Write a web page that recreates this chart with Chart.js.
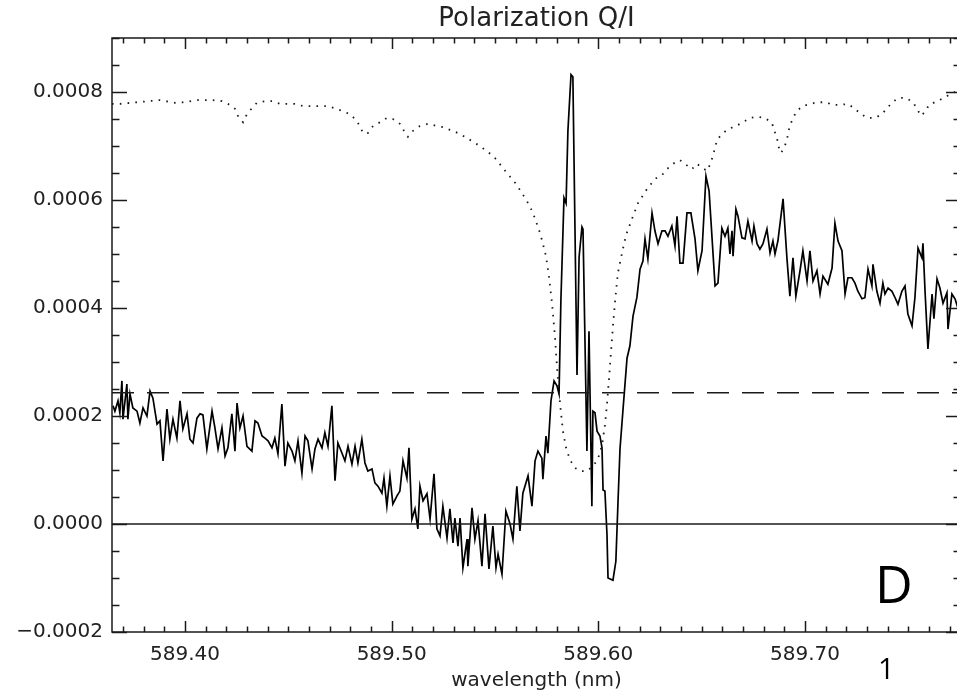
<!DOCTYPE html>
<html lang="en">
<head>
    <meta charset="UTF-8">
    <title>Polarization Q/I</title>
    <script src="https://cdn.jsdelivr.net/npm/chart.js"></script>
    <style>
        html, body { margin: 0; padding: 0; background: #fff; overflow: hidden; }
        #wrap { width: 962px; height: 695px; }
    </style>
</head>
<body>
<div id="wrap"><canvas id="qiChart"></canvas></div>

<script>
    // Axis ranges
    const xMin = 589.3647, xMax = 589.7755;   // wavelength (nm)
    const yMin = -0.0002, yMax = 0.0009;      // Q/I
    const xTickValues = [589.40, 589.50, 589.60, 589.70];
    const yTickValues = [-0.0002, 0.0000, 0.0002, 0.0004, 0.0006, 0.0008];
    const xMinorStep = 0.01;
    const yMinorStep = 0.00005;

    // Reference levels
    const zeroLevel = 0;
    const dashedLevel = 0.000243;

    // Measured Q/I
    const qWavelength = [
        589.3652, 589.3661, 589.3676, 589.3685, 589.3695, 589.3700, 589.3719, 589.3724, 589.3734, 589.3748,
        589.3768, 589.3782, 589.3797, 589.3816, 589.3831, 589.3845, 589.3865, 589.3879, 589.3894, 589.3913,
        589.3927, 589.3942, 589.3961, 589.3976, 589.3990, 589.4010, 589.4024, 589.4039, 589.4058, 589.4073,
        589.4087, 589.4106, 589.4131, 589.4145, 589.4160, 589.4179, 589.4194, 589.4208, 589.4227, 589.4242,
        589.4252, 589.4266, 589.4281, 589.4300, 589.4324, 589.4339, 589.4353, 589.4373, 589.4387, 589.4402,
        589.4421, 589.4435, 589.4450, 589.4469, 589.4484, 589.4498, 589.4518, 589.4532, 589.4547, 589.4566,
        589.4581, 589.4595, 589.4615, 589.4629, 589.4644, 589.4663, 589.4677, 589.4692, 589.4711, 589.4726,
        589.4740, 589.4760, 589.4774, 589.4789, 589.4808, 589.4823, 589.4837, 589.4856, 589.4871, 589.4885,
        589.4905, 589.4919, 589.4934, 589.4953, 589.4963, 589.4977, 589.4992, 589.5006, 589.5026, 589.5040,
        589.5055, 589.5074, 589.5084, 589.5098, 589.5113, 589.5127, 589.5137, 589.5152, 589.5171, 589.5186,
        589.5205, 589.5219, 589.5234, 589.5248, 589.5268, 589.5282, 589.5297, 589.5306, 589.5321, 589.5331,
        589.5345, 589.5365, 589.5369, 589.5389, 589.5403, 589.5418, 589.5437, 589.5452, 589.5471, 589.5490,
        589.5505, 589.5515, 589.5534, 589.5553, 589.5573, 589.5587, 589.5606, 589.5621, 589.5635, 589.5660,
        589.5679, 589.5694, 589.5708, 589.5727, 589.5732, 589.5747, 589.5756, 589.5771, 589.5786, 589.5800,
        589.5810, 589.5819, 589.5834, 589.5844, 589.5853, 589.5868, 589.5877, 589.5897, 589.5907, 589.5921,
        589.5926, 589.5945, 589.5955, 589.5969, 589.5974, 589.5984, 589.5994, 589.6008, 589.6018, 589.6023,
        589.6032, 589.6042, 589.6047, 589.6071, 589.6085, 589.6095, 589.6105, 589.6119, 589.6139, 589.6153,
        589.6168, 589.6187, 589.6202, 589.6216, 589.6226, 589.6240, 589.6260, 589.6274, 589.6289, 589.6308,
        589.6323, 589.6337, 589.6356, 589.6371, 589.6381, 589.6395, 589.6410, 589.6429, 589.6448, 589.6468,
        589.6482, 589.6502, 589.6521, 589.6536, 589.6565, 589.6579, 589.6598, 589.6613, 589.6627, 589.6637,
        589.6647, 589.6652, 589.6666, 589.6676, 589.6695, 589.6710, 589.6724, 589.6744, 589.6753, 589.6768,
        589.6782, 589.6797, 589.6816, 589.6831, 589.6845, 589.6855, 589.6869, 589.6894, 589.6913, 589.6927,
        589.6942, 589.6956, 589.6976, 589.6990, 589.7010, 589.7024, 589.7039, 589.7058, 589.7073, 589.7087,
        589.7111, 589.7131, 589.7145, 589.7160, 589.7179, 589.7194, 589.7208, 589.7227, 589.7242, 589.7256,
        589.7276, 589.7290, 589.7305, 589.7324, 589.7329, 589.7348, 589.7363, 589.7377, 589.7387, 589.7402,
        589.7421, 589.7436, 589.7450, 589.7469, 589.7484, 589.7498, 589.7518, 589.7532, 589.7547, 589.7566,
        589.7571, 589.7581, 589.7595, 589.7615, 589.7624, 589.7639, 589.7653, 589.7668, 589.7687, 589.7692,
        589.7711, 589.7726, 589.7740
    ];
    const qValue = [
        0.000219, 0.000209, 0.000228, 0.000206, 0.000265, 0.000194, 0.000259, 0.000194, 0.000241, 0.000215,
        0.000209, 0.000187, 0.000215, 0.000200, 0.000246, 0.000233, 0.000185, 0.000191, 0.000117, 0.000213,
        0.000157, 0.000194, 0.000159, 0.000228, 0.000176, 0.000204, 0.000157, 0.000150, 0.000196, 0.000204,
        0.000202, 0.000139, 0.000209, 0.000178, 0.000139, 0.000178, 0.000126, 0.000141, 0.000204, 0.000135,
        0.000224, 0.000178, 0.000200, 0.000144, 0.000135, 0.000191, 0.000187, 0.000163, 0.000159, 0.000154,
        0.000141, 0.000159, 0.000130, 0.000222, 0.000107, 0.000150, 0.000135, 0.000117, 0.000154, 0.000094,
        0.000163, 0.000154, 0.000102, 0.000139, 0.000157, 0.000141, 0.000169, 0.000144, 0.000219, 0.000080,
        0.000150, 0.000131, 0.000117, 0.000144, 0.000111, 0.000144, 0.000113, 0.000157, 0.000113, 0.000098,
        0.000102, 0.000076, 0.000070, 0.000057, 0.000085, 0.000033, 0.000089, 0.000037, 0.000052, 0.000061,
        0.000117, 0.000085, 0.000141, 0.000009, 0.000028, -0.000009, 0.000070, 0.000043, 0.000056, 0.000009,
        0.000093, -0.000009, -0.000022, 0.000033, -0.000026, 0.000028, -0.000035, 0.000011, -0.000041, 0.000011,
        -0.000081, -0.000028, -0.000078, 0.000030, -0.000028, 0.000006, -0.000078, 0.000019, -0.000083, -0.000004,
        -0.000081, -0.000056, -0.000093, 0.000024, 0.000000, -0.000028, 0.000070, -0.000013, 0.000057, 0.000089,
        0.000033, 0.000117, 0.000135, 0.000122, 0.000083, 0.000163, 0.000131, 0.000228, 0.000265, 0.000256,
        0.000241, 0.000413, 0.000604, 0.000594, 0.000728, 0.000832, 0.000828, 0.000276, 0.000494, 0.000550,
        0.000546, 0.000135, 0.000357, 0.000033, 0.000209, 0.000206, 0.000172, 0.000163, 0.000141, 0.000063,
        0.000061, -0.000019, -0.000100, -0.000104, -0.000069, 0.000037, 0.000139, 0.000209, 0.000307, 0.000330,
        0.000385, 0.000420, 0.000472, 0.000487, 0.000528, 0.000491, 0.000576, 0.000543, 0.000519, 0.000543,
        0.000543, 0.000533, 0.000552, 0.000515, 0.000570, 0.000483, 0.000483, 0.000576, 0.000576, 0.000528,
        0.000469, 0.000506, 0.000644, 0.000617, 0.000441, 0.000446, 0.000548, 0.000533, 0.000548, 0.000500,
        0.000543, 0.000496, 0.000583, 0.000570, 0.000530, 0.000528, 0.000561, 0.000524, 0.000552, 0.000519,
        0.000509, 0.000519, 0.000546, 0.000502, 0.000524, 0.000500, 0.000524, 0.000602, 0.000491, 0.000422,
        0.000493, 0.000422, 0.000469, 0.000506, 0.000450, 0.000506, 0.000450, 0.000469, 0.000426, 0.000459,
        0.000444, 0.000474, 0.000557, 0.000524, 0.000506, 0.000426, 0.000456, 0.000456, 0.000446, 0.000431,
        0.000417, 0.000419, 0.000472, 0.000441, 0.000481, 0.000431, 0.000409, 0.000446, 0.000426, 0.000437,
        0.000431, 0.000419, 0.000407, 0.000431, 0.000441, 0.000389, 0.000367, 0.000419, 0.000511, 0.000493,
        0.000520, 0.000431, 0.000324, 0.000426, 0.000380, 0.000454, 0.000437, 0.000409, 0.000428, 0.000361,
        0.000426, 0.000417, 0.000400
    ];

    // Scaled intensity profile (dotted)
    const profWavelength = [
        589.3647, 589.3685, 589.3768, 589.3879, 589.3952, 589.3990, 589.4063, 589.4135, 589.4179, 589.4208,
        589.4242, 589.4256, 589.4281, 589.4300, 589.4324, 589.4348, 589.4387, 589.4426, 589.4460, 589.4532,
        589.4571, 589.4687, 589.4726, 589.4760, 589.4798, 589.4823, 589.4847, 589.4861, 589.4885, 589.4910,
        589.4944, 589.4977, 589.5006, 589.5040, 589.5060, 589.5079, 589.5103, 589.5137, 589.5176, 589.5219,
        589.5248, 589.5282, 589.5321, 589.5355, 589.5389, 589.5418, 589.5452, 589.5485, 589.5510, 589.5534,
        589.5558, 589.5582, 589.5606, 589.5626, 589.5645, 589.5665, 589.5684, 589.5698, 589.5718, 589.5732,
        589.5747, 589.5761, 589.5776, 589.5790, 589.5800, 589.5810, 589.5819, 589.5829, 589.5844, 589.5863,
        589.5887, 589.5911, 589.5945, 589.5974, 589.5998, 589.6018, 589.6032, 589.6042, 589.6052, 589.6061,
        589.6071, 589.6085, 589.6095, 589.6115, 589.6134, 589.6163, 589.6192, 589.6235, 589.6274, 589.6308,
        589.6332, 589.6361, 589.6395, 589.6419, 589.6453, 589.6477, 589.6506, 589.6526, 589.6545, 589.6555,
        589.6565, 589.6574, 589.6598, 589.6627, 589.6666, 589.6700, 589.6734, 589.6773, 589.6806, 589.6840,
        589.6850, 589.6865, 589.6869, 589.6884, 589.6898, 589.6913, 589.6918, 589.6927, 589.6942, 589.6961,
        589.6990, 589.7024, 589.7063, 589.7102, 589.7135, 589.7169, 589.7208, 589.7237, 589.7266, 589.7300,
        589.7339, 589.7373, 589.7397, 589.7421, 589.7450, 589.7489, 589.7523, 589.7542, 589.7561, 589.7581,
        589.7600, 589.7639, 589.7673, 589.7702, 589.7726, 589.7755
    ];
    const profValue = [
        0.000778, 0.000778, 0.000781, 0.000785, 0.000780, 0.000781, 0.000785, 0.000785, 0.000783, 0.000778,
        0.000769, 0.000756, 0.000744, 0.000759, 0.000770, 0.000780, 0.000783, 0.000783, 0.000778, 0.000778,
        0.000774, 0.000774, 0.000770, 0.000765, 0.000759, 0.000750, 0.000737, 0.000724, 0.000724, 0.000737,
        0.000744, 0.000752, 0.000750, 0.000741, 0.000728, 0.000717, 0.000728, 0.000737, 0.000741, 0.000737,
        0.000735, 0.000730, 0.000724, 0.000717, 0.000709, 0.000702, 0.000693, 0.000683, 0.000674, 0.000661,
        0.000650, 0.000639, 0.000628, 0.000615, 0.000604, 0.000591, 0.000576, 0.000561, 0.000539, 0.000519,
        0.000496, 0.000459, 0.000409, 0.000348, 0.000293, 0.000243, 0.000207, 0.000172, 0.000141, 0.000119,
        0.000104, 0.000098, 0.000098, 0.000107, 0.000120, 0.000146, 0.000183, 0.000222, 0.000269, 0.000317,
        0.000367, 0.000428, 0.000465, 0.000502, 0.000535, 0.000565, 0.000594, 0.000620, 0.000639, 0.000646,
        0.000657, 0.000667, 0.000674, 0.000667, 0.000657, 0.000667, 0.000659, 0.000654, 0.000669, 0.000683,
        0.000696, 0.000711, 0.000722, 0.000731, 0.000737, 0.000744, 0.000752, 0.000754, 0.000752, 0.000743,
        0.000730, 0.000715, 0.000702, 0.000687, 0.000696, 0.000711, 0.000724, 0.000737, 0.000752, 0.000765,
        0.000774, 0.000778, 0.000781, 0.000781, 0.000776, 0.000776, 0.000778, 0.000770, 0.000761, 0.000752,
        0.000752, 0.000759, 0.000770, 0.000780, 0.000789, 0.000789, 0.000781, 0.000769, 0.000756, 0.000763,
        0.000776, 0.000783, 0.000789, 0.000796, 0.000800, 0.000804
    ];

    const inkColor = '#1a1a1a';
    const textColor = '#222';

    function toPoints(xs, ys) {
        return xs.map((x, i) => ({ x: x, y: ys[i] }));
    }

    // Box around the plot with inward ticks on all four sides, plus title and panel marks
    const framePlugin = {
        id: 'frame',
        afterDatasetsDraw(chart) {
            const { ctx, chartArea: a, scales: { x, y } } = chart;
            ctx.save();
            ctx.strokeStyle = inkColor;
            ctx.lineWidth = 1.5;
            ctx.strokeRect(a.left, a.top, a.right - a.left, a.bottom - a.top);

            ctx.beginPath();
            const k0 = Math.ceil(xMin / xMinorStep - 1e-6);
            for (let k = k0; k * xMinorStep <= xMax + 1e-9; k++) {
                const v = k * xMinorStep;
                const major = k % 10 === 0;
                const len = major ? 11 : 5.5;
                const px = Math.round(x.getPixelForValue(v)) + 0.5;
                ctx.moveTo(px, a.bottom); ctx.lineTo(px, a.bottom - len);
                ctx.moveTo(px, a.top); ctx.lineTo(px, a.top + len);
            }
            const j0 = Math.ceil(yMin / yMinorStep - 1e-6);
            for (let j = j0; j * yMinorStep <= yMax + 1e-12; j++) {
                const v = j * yMinorStep;
                const major = j % 4 === 0;
                const len = major ? 15 : 7.5;
                const py = Math.round(y.getPixelForValue(v)) + 0.5;
                ctx.moveTo(a.left, py); ctx.lineTo(a.left + len, py);
                ctx.moveTo(a.right, py); ctx.lineTo(a.right - len, py);
            }
            ctx.stroke();
            ctx.restore();
        },
        afterDraw(chart) {
            const { ctx, chartArea: a } = chart;
            ctx.save();
            ctx.fillStyle = textColor;
            ctx.textAlign = 'center';
            ctx.textBaseline = 'alphabetic';
            ctx.font = '26px "DejaVu Sans"';
            ctx.fillText('Polarization Q/I', (a.left + a.right) / 2, 26);

            ctx.fillStyle = '#000';
            ctx.textAlign = 'left';
            ctx.font = '52px "Open Sans"';
            ctx.fillText('D', 875, 603);
            ctx.font = '29px "Open Sans"';
            ctx.fillText('1', 878, 679);
            ctx.restore();
        }
    };

    const ctx = document.getElementById('qiChart').getContext('2d');
    new Chart(ctx, {
        type: 'line',
        data: {
            datasets: [
                {
                    data: toPoints(profWavelength, profValue),
                    borderColor: inkColor,
                    borderWidth: 1.8,
                    borderDash: [1.6, 6.2],
                    pointRadius: 0,
                    tension: 0
                },
                {
                    data: [{ x: xMin, y: dashedLevel }, { x: xMax, y: dashedLevel }],
                    borderColor: inkColor,
                    borderWidth: 1.5,
                    borderDash: [22, 13],
                    pointRadius: 0
                },
                {
                    data: [{ x: xMin, y: zeroLevel }, { x: xMax, y: zeroLevel }],
                    borderColor: inkColor,
                    borderWidth: 1.5,
                    pointRadius: 0
                },
                {
                    data: toPoints(qWavelength, qValue),
                    borderColor: '#000',
                    borderWidth: 1.7,
                    pointRadius: 0,
                    tension: 0
                }
            ]
        },
        options: {
            responsive: true,
            maintainAspectRatio: false,
            animation: false,
            layout: { padding: { top: 38, right: 1, left: 0, bottom: 0 } },
            plugins: {
                legend: { display: false },
                tooltip: { enabled: false },
                title: { display: false }
            },
            scales: {
                x: {
                    type: 'linear',
                    min: xMin,
                    max: xMax,
                    grid: { display: false, drawTicks: false },
                    border: { display: false },
                    afterBuildTicks: scale => { scale.ticks = xTickValues.map(v => ({ value: v })); },
                    afterFit: scale => { scale.height = 63; },
                    ticks: {
                        font: { family: 'DejaVu Sans', size: 20 },
                        color: textColor,
                        padding: 11,
                        maxRotation: 0,
                        autoSkip: false,
                        callback: v => Number(v).toFixed(2)
                    },
                    title: {
                        display: true,
                        text: 'wavelength (nm)',
                        font: { family: 'DejaVu Sans', size: 20 },
                        color: textColor,
                        padding: { top: 0, bottom: 2 }
                    }
                },
                y: {
                    type: 'linear',
                    min: yMin,
                    max: yMax,
                    grid: { display: false, drawTicks: false },
                    border: { display: false },
                    afterBuildTicks: scale => { scale.ticks = yTickValues.map(v => ({ value: v })); },
                    afterFit: scale => { scale.width = 112; },
                    ticks: {
                        font: { family: 'DejaVu Sans', size: 20 },
                        color: textColor,
                        padding: 9,
                        callback: v => (v < 0 ? '\u2212' : '') + Math.abs(v).toFixed(4)
                    }
                }
            }
        },
        plugins: [framePlugin]
    });
</script>

</body>
</html>
